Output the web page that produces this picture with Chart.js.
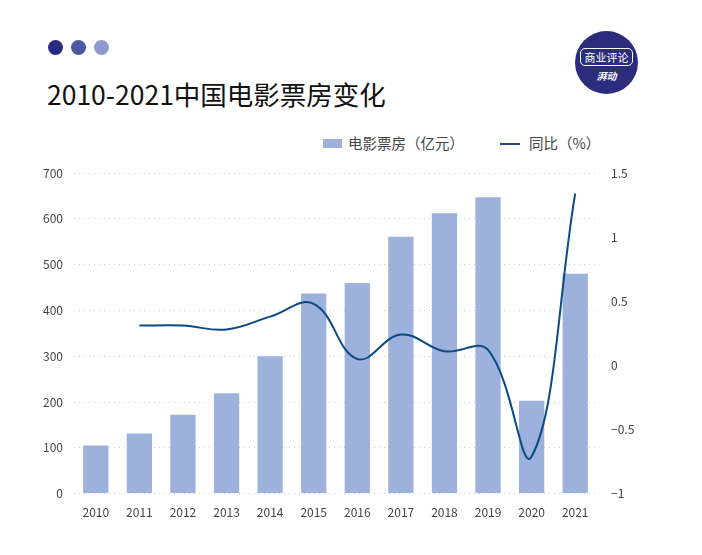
<!DOCTYPE html>
<html>
<head>
<meta charset="utf-8">
<script src="https://cdn.jsdelivr.net/npm/chart.js@4/dist/chart.umd.min.js"></script>
<style>
  html,body{margin:0;padding:0;background:#fff;}
  body{width:702px;height:555px;position:relative;overflow:hidden;font-family:"Noto Sans CJK SC","Noto Sans",sans-serif;}
  .dot{position:absolute;width:15px;height:15px;border-radius:50%;top:40px;}
  #title{position:absolute;left:47px;top:74px;font-size:26.5px;font-weight:400;color:#111;white-space:nowrap;}
  #logo{position:absolute;left:575px;top:31px;width:63px;height:63px;border-radius:50%;background:#2b2d7c;color:#fff;text-align:center;}
  #logo .l1{position:absolute;left:5px;top:17px;width:51px;height:16px;border:1.3px solid #fff;border-radius:5px;font-size:11px;line-height:16px;}
  #logo .l2{position:absolute;left:0;width:63px;top:37px;font-size:10px;font-style:italic;font-weight:700;}
  #legend{position:absolute;top:132px;left:0;width:702px;height:22px;font-size:14.5px;color:#444;}
  #legend .box{position:absolute;left:323px;top:7px;width:19px;height:9px;background:#9db1dd;}
  #legend .t1{position:absolute;left:348px;top:0;}
  #legend .ln{position:absolute;left:500px;top:11px;width:20px;height:2px;background:#2d3f8e;}
  #legend .t2{position:absolute;left:529px;top:0;}
  #wrap{position:absolute;left:0;top:150px;width:702px;height:382px;}
</style>
</head>
<body>
<div class="dot" style="left:48px;background:#2a2a80;"></div>
<div class="dot" style="left:71px;background:#4e58a2;"></div>
<div class="dot" style="left:94px;background:#8e99cf;"></div>
<div id="title">2010-2021中国电影票房变化</div>
<div id="logo"><div class="l1">商业评论</div><div class="l2">湃动</div></div>
<div id="legend"><div class="box"></div><div class="t1">电影票房（亿元）</div><div class="ln"></div><div class="t2">同比（%）</div></div>
<div id="wrap"><canvas id="c" width="702" height="382"></canvas></div>
<script>
const years = ['2010','2011','2012','2013','2014','2015','2016','2017','2018','2019','2020','2021'];
const boxOffice = [105, 131, 172, 219, 300, 437, 460, 561, 612, 647, 203, 480];
const yoy = [null, 0.31, 0.31, 0.28, 0.38, 0.48, 0.05, 0.24, 0.11, 0.12, -0.71, 1.34];
const leftTicks = [0, 100, 200, 300, 400, 500, 600, 700];
const rightTicks = [-1, -0.5, 0, 0.5, 1, 1.5];

const tickFont = {family:'"Noto Sans CJK SC","Noto Sans",sans-serif', size:12};
new Chart(document.getElementById('c'), {
  data: {
    labels: years,
    datasets: [
      {type:'line', label:'同比（%）', data: yoy, yAxisID:'y1', borderColor:'#0b4a82', borderWidth:2,
       pointRadius:0, tension:0.4, spanGaps:false, order:0},
      {type:'bar', label:'电影票房（亿元）', data: boxOffice, yAxisID:'y', backgroundColor:'#9db1dd',
       categoryPercentage:1.0, barPercentage:0.58, order:1}
    ]
  },
  options: {
    responsive:false, animation:false,
    layout:{padding:{top:23, bottom:0, left:0, right:0}},
    plugins:{legend:{display:false}, tooltip:{enabled:false}},
    scales: {
      x: {grid:{display:false, drawTicks:false}, border:{display:false},
          ticks:{color:'#444', font:tickFont, padding:12, maxRotation:0}},
      y: {position:'left', min:0, max:700,
          afterBuildTicks: s => { s.ticks = leftTicks.map(v=>({value:v})); },
          afterFit: s => { s.width = 74; },
          grid:{color:'#c8c8c8', lineWidth:1, drawTicks:false},
          border:{display:false, dash:[1,4]},
          ticks:{color:'#444', font:tickFont, padding:11}},
      y1: {position:'right', min:-1, max:1.5,
          afterBuildTicks: s => { s.ticks = rightTicks.map(v=>({value:v})); },
          afterFit: s => { s.width = 105; },
          grid:{display:false, drawTicks:false}, border:{display:false},
          ticks:{color:'#444', font:tickFont, padding:14,
                 callback: v => v < 0 ? '\u2212' + Math.abs(v) : String(v)}}
    }
  }
});
</script>
</body>
</html>
